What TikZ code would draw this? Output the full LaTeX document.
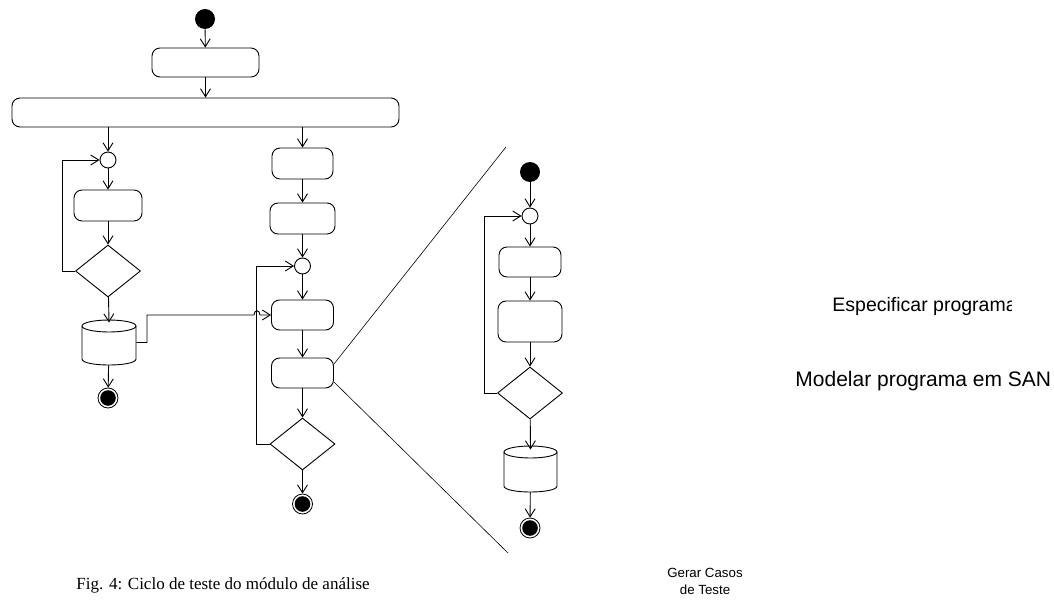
\documentclass[tikz,border=0pt]{standalone}
\usepackage{fontspec}
\setmainfont{Liberation Serif}
\setsansfont{Liberation Sans}
\usetikzlibrary{arrows.meta,shapes.geometric,calc}

\begin{document}
\begin{tikzpicture}[x=1pt,y=-1pt,line width=0.9pt,
  flow/.style={-{Straight Barb[length=8pt,width=10pt]}},
  act/.style={draw,rounded corners=8pt,inner sep=0pt},
  merge/.style={draw,circle,fill=white,minimum size=16pt,inner sep=0pt},
  startdot/.style={circle,fill=black,minimum size=20pt,inner sep=0pt},
  enddot/.style={circle,draw,line width=0.8pt,fill=white,minimum size=20pt,inner sep=0pt,
    path picture={\fill[black] (path picture bounding box.center) circle[radius=7.8pt];}},
  choice/.style={diamond,draw,inner sep=0pt,minimum width=65pt,minimum height=52pt,aspect=1.25},
  store/.style={inner sep=0pt,minimum width=54pt,minimum height=45pt},
  zoomline/.style={line width=0.6pt},
  label/.style={font=\sffamily\fontsize{19.5}{22}\selectfont}]
\useasboundingbox (0,0) rectangle (1054,612);

% ---- main flow: top part
\node[startdot] (start) at (205,19) {};
\node[act,minimum width=107pt,minimum height=29pt] (b1) at (205.5,62.5) {};
\node[act,minimum width=387pt,minimum height=29pt] (bar) at (205.5,112.5) {};

% ---- left branch
\node[merge] (mL) at (108,160) {};
\node[act,minimum width=68pt,minimum height=31pt] (bL) at (108,205.5) {};
\node[choice] (dL) at (108,271) {};
\node[store] (cylL) at (109,342.5) {};
\node[enddot] (endL) at (108,398) {};

% ---- right branch
\node[act,minimum width=61pt,minimum height=31pt] (bR1) at (302.5,163.5) {};
\node[act,minimum width=65pt,minimum height=31pt] (bR2) at (302.5,218.5) {};
\node[merge] (mR) at (302.5,266) {};
\node[act,minimum width=62pt,minimum height=30pt] (bR3) at (302.5,315) {};
\node[act,minimum width=62pt,minimum height=30pt] (bR4) at (302.5,373) {};
\node[choice] (dR) at (302.5,444) {};
\node[enddot] (endR) at (302.5,504) {};

% ---- detail of the last activity
\node[startdot] (startI) at (530,172) {};
\node[merge] (mI) at (530,216) {};
\node[act,minimum width=62pt,minimum height=30pt] (bI1) at (530,262) {};
\node[act,minimum width=64pt,minimum height=41pt] (bI2) at (530,321.5) {};
\node[choice] (dI) at (530,393) {};
\node[store,minimum width=53pt,minimum height=46pt] (cylI) at (530.5,469) {};
\node[enddot] (endI) at (530,528) {};

% ---- data stores drawn as cylinders
\draw[fill=white] (109,326) ellipse[x radius=27,y radius=6];
\draw (82,326) -- (82,359) .. controls (82,367) and (136,367) .. (136,359) -- (136,326);
\draw[fill=white] (530.5,452) ellipse[x radius=26.5,y radius=6];
\draw (504,452) -- (504,486) .. controls (504,494) and (557,494) .. (557,486) -- (557,452);

% ---- connectors
\draw[flow] (start) -- (b1);
\draw[flow] (b1) -- (bar);
\draw[flow] (bar.south -| mL) -- (mL);
\draw[flow] (mL) -- (bL);
\draw[flow] (bL) -- (dL);
\draw[flow] (dL) -- ($(cylL.north)+(0,3)$);
\draw[flow] (dL.west) -- ++(-13,0) |- (mL.west);
\draw[flow] (cylL) -- (endL);

\draw[flow] (bar.south -| bR1) -- (bR1);
\draw[flow] (bR1) -- (bR2);
\draw[flow] (bR2) -- (mR);
\draw[flow] (mR) -- (bR3);
\draw[flow] (bR3) -- (bR4);
\draw[flow] (bR4) -- (dR);
\draw[flow] (dR.west) -- ++(-13,0) |- (mR.west);
\draw[flow] (dR) -- (endR);

\coordinate (hopL) at (254,315);
\coordinate (hopR) at (260,315);
\draw[flow] (cylL.east) -| (147,315) -- (hopL)
  .. controls (254,309.5) and (260,309.5) .. (hopR) -- (bR3.west);

\draw[flow] (startI) -- (mI);
\draw[flow] (mI) -- (bI1);
\draw[flow] (bI1) -- (bI2);
\draw[flow] (bI2) -- (dI);
\draw[flow] (dI) -- ($(cylI.north)+(0,4)$);
\draw[flow] (dI.west) -- ++(-13,0) |- (mI.west);
\draw[flow] (cylI) -- (endI);

% ---- zoom lines from the detailed activity
\coordinate (zt) at (506,147);
\coordinate (zb) at (508,553);
\draw[zoomline] ($(bR4.east)+(0,-9)$) -- (zt);
\draw[zoomline] ($(bR4.east)+(0,9)$) -- (zb);

% ---- labels
\begin{scope}
  \clip (780,280) rectangle (1011,330);
  \node[label,anchor=base west,inner sep=0pt] (lesp) at (832,311) {Especificar programa};
\end{scope}
\node[label,font=\sffamily\fontsize{21}{24}\selectfont,anchor=base west,inner sep=0pt] (lmod) at (795,386) {Modelar programa em SAN};
\node[font=\sffamily\fontsize{13.3}{16.5}\selectfont,align=center,anchor=base,inner sep=0pt] (lger) at (705,594) {Gerar Casos\\de Teste};
\node[anchor=base west,inner sep=0pt,font=\fontsize{17}{20}\selectfont] (cap) at (76,589)
  {Fig. 4: Ciclo de teste do módulo de análise};
\end{tikzpicture}
\end{document}
